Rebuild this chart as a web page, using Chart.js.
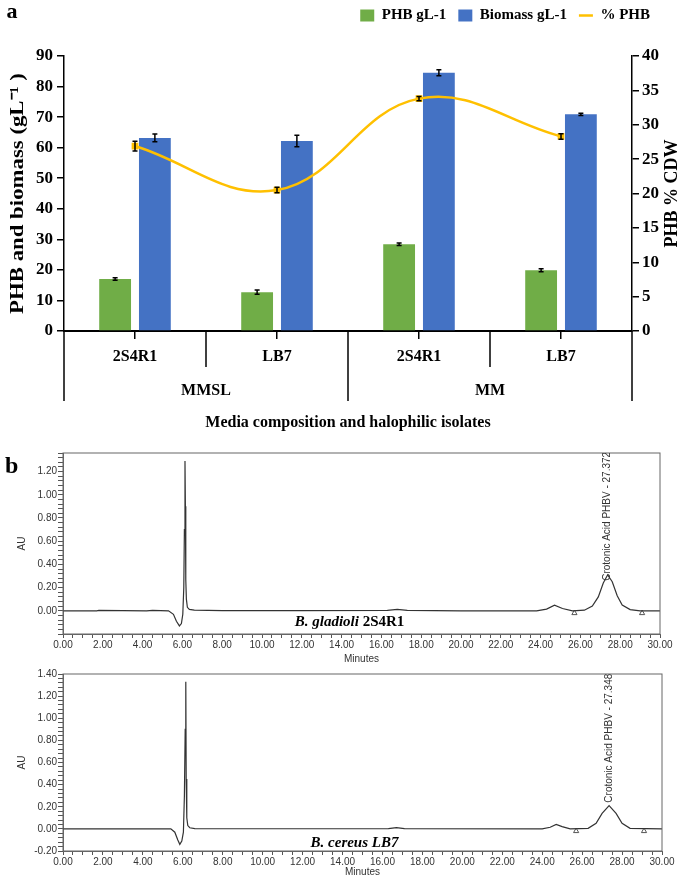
<!DOCTYPE html>
<html>
<head>
<meta charset="utf-8">
<script src="https://cdn.jsdelivr.net/npm/chart.js@4.4.0/dist/chart.umd.min.js"></script>
<style>
  body { margin: 0; background: #fff; }
  canvas { position: absolute; left: 0; }
</style>
</head>
<body>
<canvas id="barChart" width="685" height="440" style="top:0"></canvas>
<canvas id="chromA" width="685" height="225" style="top:440px"></canvas>
<canvas id="chromB" width="685" height="213" style="top:665px"></canvas>
<script>
// panel a: PHB / biomass / %PHB per isolate and medium
const isolates = ['2S4R1', 'LB7', '2S4R1', 'LB7'];
const media = ['MMSL', 'MM'];
const phb = [17.0, 12.7, 28.4, 19.9];
const phbErr = [0.4, 0.7, 0.4, 0.5];
const biomass = [63.2, 62.2, 84.5, 70.9];
const biomassErr = [1.3, 1.9, 1.0, 0.4];
const phbPct = [26.9, 20.5, 33.8, 28.3];
const phbPctErr = [0.7, 0.4, 0.3, 0.4];

// panel b: HPLC traces (minutes, AU)
const rtGladioli = [0, 1.7, 1.8, 4.2, 4.5, 5.3, 5.55, 5.7, 5.85, 5.95, 6.02, 6.07, 6.1, 6.13, 6.15, 6.17, 6.2, 6.25, 6.35, 6.6, 8, 12, 16.3, 16.8, 17.3, 20, 23.8, 24.3, 24.7, 25.1, 25.6, 26.2, 26.6, 26.9, 27.15, 27.37, 27.6, 27.85, 28.1, 28.5, 29.0, 30];
const auGladioli = [0, 0, 0.003, 0, 0.003, 0, -0.03, -0.09, -0.13, -0.11, -0.03, 0.2, 0.7, 1.29, 0.9, 0.27, 0.1, 0.03, 0.012, 0.005, 0.002, 0.002, 0.003, 0.012, 0.003, 0, 0, 0.015, 0.048, 0.02, 0, 0.005, 0.04, 0.12, 0.24, 0.31, 0.25, 0.13, 0.05, 0.01, 0, 0];
const rtCereus = [0, 5.4, 5.6, 5.75, 5.85, 5.95, 6.03, 6.08, 6.12, 6.15, 6.17, 6.2, 6.25, 6.35, 6.6, 10, 16.3, 16.7, 17.1, 24.0, 24.4, 24.7, 25.0, 25.4, 26.3, 26.7, 27.0, 27.35, 27.7, 28.0, 28.4, 30];
const auCereus = [0, 0, -0.03, -0.1, -0.14, -0.11, -0.03, 0.3, 0.9, 1.33, 0.45, 0.1, 0.03, 0.01, 0.003, 0.001, 0.002, 0.012, 0.002, 0, 0.015, 0.04, 0.02, 0, 0.005, 0.05, 0.14, 0.21, 0.14, 0.05, 0.005, 0];
const markTimes = [25.7, 29.1];
const markAu = [-0.02, -0.02];

const serif = '"Liberation Serif", "Times New Roman", serif';
const sans = '"Liberation Sans", Arial, sans-serif';

const errorBars = {
    id: 'errorBars',
    afterDatasetsDraw(chart) {
        const ctx = chart.ctx;
        ctx.save();
        ctx.strokeStyle = '#000';
        ctx.lineWidth = 1.5;
        chart.data.datasets.forEach((ds, i) => {
            if (!ds.errors) return;
            const meta = chart.getDatasetMeta(i);
            const ys = chart.scales[meta.yAxisID];
            meta.data.forEach((el, j) => {
                const top = ys.getPixelForValue(ds.data[j] + ds.errors[j]);
                const bot = ys.getPixelForValue(ds.data[j] - ds.errors[j]);
                ctx.beginPath();
                ctx.moveTo(el.x, top); ctx.lineTo(el.x, bot);
                ctx.moveTo(el.x - 2.5, top); ctx.lineTo(el.x + 2.5, top);
                ctx.moveTo(el.x - 2.5, bot); ctx.lineTo(el.x + 2.5, bot);
                ctx.stroke();
            });
        });
        ctx.restore();
    }
};

// leaves room between legend and plot
const legendGap = {
    id: 'legendGap',
    beforeLayout(chart) {
        const lg = chart.legend;
        if (lg && !lg.$gap) {
            const fit = lg.fit;
            lg.fit = function () { fit.call(this); this.height = 60; };
            lg.$gap = true;
        }
    }
};

// two-level category axis, axis titles, panel letter
const groupAxis = {
    id: 'groupAxis',
    afterDraw(chart) {
        const { ctx, chartArea } = chart;
        const xs = chart.scales.x;
        const base = chartArea.bottom;
        const midY = (chartArea.top + chartArea.bottom) / 2;
        const edges = [chartArea.left];
        for (let i = 0; i < isolates.length - 1; i++) {
            edges.push((xs.getPixelForValue(i) + xs.getPixelForValue(i + 1)) / 2);
        }
        edges.push(chartArea.right);
        ctx.save();
        ctx.strokeStyle = '#000';
        ctx.lineWidth = 1.5;
        edges.forEach((px, i) => {
            ctx.beginPath();
            ctx.moveTo(px, base);
            ctx.lineTo(px, base + (i % 2 === 0 ? 70 : 36));
            ctx.stroke();
        });
        ctx.fillStyle = '#000';
        ctx.textAlign = 'center';
        ctx.textBaseline = 'middle';
        ctx.font = 'bold 16px ' + serif;
        media.forEach((m, g) => ctx.fillText(m, edges[2 * g + 1], base + 60));
        ctx.font = 'bold 22px ' + serif;
        ctx.fillText('a', 12, 12);

        ctx.save();
        ctx.translate(18, midY);
        ctx.rotate(-Math.PI / 2);
        ctx.scale(1.2, 1);
        ctx.font = 'bold 19px ' + serif;
        ctx.fillText('PHB and biomass (gL\u207B\u00B9 )', 0, 0);
        ctx.restore();

        ctx.translate(672, midY);
        ctx.rotate(-Math.PI / 2);
        ctx.font = 'bold 18px ' + serif;
        ctx.fillText('PHB % CDW', 0, 0);
        ctx.restore();
    }
};

new Chart(document.getElementById('barChart'), {
    type: 'bar',
    data: {
        labels: isolates,
        datasets: [
            { label: 'PHB gL-1', data: phb, errors: phbErr, backgroundColor: '#70AD47', yAxisID: 'y', order: 1, categoryPercentage: 0.56, barPercentage: 0.8 },
            { label: 'Biomass gL-1', data: biomass, errors: biomassErr, backgroundColor: '#4472C4', yAxisID: 'y', order: 1, categoryPercentage: 0.56, barPercentage: 0.8 },
            { type: 'line', label: '% PHB', data: phbPct, errors: phbPctErr, borderColor: '#FFC000', backgroundColor: '#FFC000', borderWidth: 2.5, pointStyle: 'rect', pointRadius: 3, tension: 0.4, yAxisID: 'y1', order: 0 }
        ]
    },
    options: {
        responsive: false,
        animation: false,
        layout: { padding: { top: -4, right: 23, left: 0, bottom: 0 } },
        plugins: {
            tooltip: { enabled: false },
            legend: {
                position: 'top',
                align: 'end',
                labels: {
                    usePointStyle: true,
                    pointStyleWidth: 14,
                    boxHeight: 12,
                    padding: 12,
                    color: '#000',
                    font: { family: serif, size: 15, weight: 'bold' },
                    sort: (a, b) => a.datasetIndex - b.datasetIndex,
                    generateLabels(chart) {
                        const items = Chart.defaults.plugins.legend.labels.generateLabels(chart);
                        items.forEach(it => {
                            const ds = chart.data.datasets[it.datasetIndex];
                            if (ds.type === 'line') {
                                it.pointStyle = 'line';
                                it.lineWidth = 2.5;
                                it.strokeStyle = ds.borderColor;
                            } else {
                                it.pointStyle = 'rect';
                                it.lineWidth = 0;
                            }
                        });
                        return items;
                    }
                }
            }
        },
        scales: {
            x: {
                offset: true,
                afterFit: s => { s.height = 109; },
                grid: { drawOnChartArea: false, offset: false, tickLength: 8, color: '#000', lineWidth: 1.5 },
                border: { color: '#000', width: 2 },
                ticks: { color: '#000', padding: 8, font: { family: serif, size: 16, weight: 'bold' } },
                title: { display: true, text: 'Media composition and halophilic isolates', color: '#000', padding: { top: 0, bottom: 8 }, font: { family: serif, size: 16, weight: 'bold' } }
            },
            y: {
                position: 'left',
                min: 0, max: 90,
                afterFit: s => { s.width = 64; },
                grid: { drawOnChartArea: false, tickLength: 7, color: '#000', lineWidth: 1.5 },
                border: { color: '#000', width: 1.5 },
                ticks: { stepSize: 10, color: '#000', padding: 4, font: { family: serif, size: 17, weight: 'bold' } }
            },
            y1: {
                position: 'right',
                min: 0, max: 40,
                afterFit: s => { s.width = 30; },
                grid: { drawOnChartArea: false, tickLength: 7, color: '#000', lineWidth: 1.5 },
                border: { color: '#000', width: 1.5 },
                ticks: { stepSize: 5, color: '#000', padding: 3, font: { family: serif, size: 17, weight: 'bold' } }
            }
        }
    },
    plugins: [errorBars, legendGap, groupAxis]
});

// frame, peak label, sample name, panel letter
const chromDecor = {
    id: 'chromDecor',
    afterDraw(chart, args, opts) {
        const { ctx, chartArea } = chart;
        const xs = chart.scales.x, ys = chart.scales.y;
        ctx.save();
        ctx.strokeStyle = '#666';
        ctx.lineWidth = 1;
        ctx.strokeRect(chartArea.left, chartArea.top, chartArea.right - chartArea.left, chartArea.bottom - chartArea.top);

        ctx.beginPath();
        ctx.rect(chartArea.left, chartArea.top, chartArea.right - chartArea.left, chartArea.bottom - chartArea.top);
        ctx.clip();
        ctx.fillStyle = '#333';
        ctx.font = '10px ' + sans;
        ctx.textAlign = 'left';
        ctx.textBaseline = 'middle';
        ctx.translate(xs.getPixelForValue(opts.peakRt), ys.getPixelForValue(opts.peakAu) - opts.labelGap);
        ctx.rotate(-Math.PI / 2);
        ctx.fillText('Crotonic Acid PHBV - ' + opts.peakRt.toFixed(3), 0, 0);
        ctx.restore();

        ctx.save();
        ctx.fillStyle = '#000';
        ctx.textBaseline = 'middle';
        ctx.textAlign = 'left';
        const parts = opts.sample;
        let total = 0;
        parts.forEach(p => { ctx.font = p.style + ' 15px ' + serif; total += ctx.measureText(p.text).width; });
        let x = xs.getPixelForValue(opts.sampleAt[0]) - total / 2;
        const y = ys.getPixelForValue(opts.sampleAt[1]);
        parts.forEach(p => { ctx.font = p.style + ' 15px ' + serif; ctx.fillText(p.text, x, y); x += ctx.measureText(p.text).width; });
        if (opts.letter) {
            ctx.font = 'bold 24px ' + serif;
            ctx.fillText(opts.letter, 5, 27);
        }
        ctx.restore();
    }
};

function chromChart(id, rt, au, yMax, showMin, geo, decor) {
    return new Chart(document.getElementById(id), {
        type: 'line',
        data: {
            datasets: [
                { data: rt.map((t, i) => ({ x: t, y: au[i] })), borderColor: '#333', borderWidth: 1.2, pointRadius: 0, tension: 0 },
                { type: 'scatter', data: markTimes.map((t, i) => ({ x: t, y: markAu[i] })), pointStyle: 'triangle', pointRadius: 3, borderColor: '#555', backgroundColor: 'rgba(0,0,0,0)', borderWidth: 1 }
            ]
        },
        options: {
            responsive: false,
            animation: false,
            layout: { padding: { top: geo.top, right: geo.right, left: 0, bottom: 0 } },
            plugins: { legend: { display: false }, tooltip: { enabled: false }, chromDecor: decor },
            scales: {
                x: {
                    type: 'linear', min: 0, max: 30,
                    afterFit: s => { s.height = geo.xh; },
                    grid: { drawOnChartArea: false, tickLength: 4, color: '#555' },
                    border: { color: '#666' },
                    ticks: {
                        stepSize: 0.5, autoSkip: false, maxRotation: 0, maxTicksLimit: 1000, padding: 1, color: '#333',
                        font: { family: sans, size: 10 },
                        callback: v => (Math.round(v * 2) % 4 === 0 ? v.toFixed(2) : '')
                    },
                    title: { display: true, text: 'Minutes', color: '#333', padding: 0, font: { family: sans, size: 10 } }
                },
                y: {
                    min: -0.2, max: yMax,
                    afterFit: s => { s.width = 63; },
                    grid: { drawOnChartArea: false, tickLength: 5, color: '#555' },
                    border: { color: '#666' },
                    ticks: {
                        stepSize: 0.04, autoSkip: false, maxTicksLimit: 1000, padding: 1, color: '#333',
                        font: { family: sans, size: 10 },
                        callback: v => {
                            const k = Math.round(v * 100);
                            if (k % 20 !== 0 || (!showMin && k === -20)) return '';
                            return (k / 100).toFixed(2);
                        }
                    },
                    title: { display: true, text: 'AU', color: '#333', padding: { top: 16, bottom: 0 }, font: { family: sans, size: 10 } }
                }
            }
        },
        plugins: [chromDecor]
    });
}

chromChart('chromA', rtGladioli, auGladioli, 1.36, false, { top: 13, right: 25, xh: 31 }, {
    peakRt: 27.372, peakAu: 0.31, labelGap: -6, letter: 'b', sampleAt: [14.4, -0.095],
    sample: [{ text: 'B. gladioli ', style: 'italic bold' }, { text: '2S4R1', style: 'bold' }]
});
chromChart('chromB', rtCereus, auCereus, 1.40, true, { top: 9, right: 23, xh: 27 }, {
    peakRt: 27.348, peakAu: 0.21, labelGap: 3, letter: '', sampleAt: [14.6, -0.13],
    sample: [{ text: 'B. cereus LB7', style: 'italic bold' }]
});
</script>
</body>
</html>
